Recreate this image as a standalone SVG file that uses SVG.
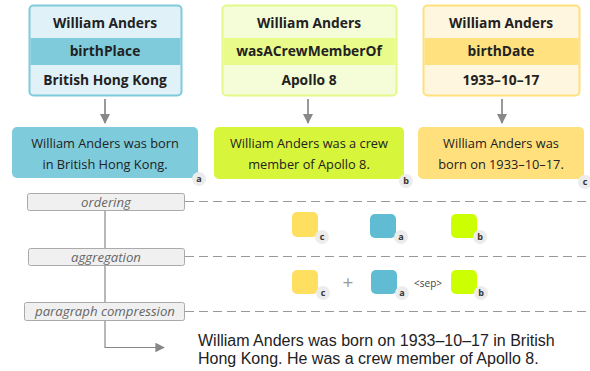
<svg xmlns="http://www.w3.org/2000/svg" width="590" height="371" viewBox="0 0 590 371">
<defs>
<style>
text{font-family:"Open Sans","DejaVu Sans",sans-serif;fill:#222;text-anchor:middle}
.h{font-weight:bold;font-size:13.8px}
.s{font-size:12.8px}
.p{font-style:italic;font-size:13.2px;fill:#666}
.pb{fill:#f0f0f0;stroke:#aaa;stroke-width:1}
.badge{fill:#ececec}
.bt{font-size:9px;font-weight:bold;fill:#333}
.dash{stroke:#999;stroke-width:1;stroke-dasharray:9,5;fill:none}
.ln{stroke:#888;stroke-width:1.2;fill:none}
.arr{stroke:#999;stroke-width:2;fill:none}
.out{font-family:"Liberation Sans",Arial,sans-serif;font-size:16px;text-anchor:start}
</style>
<marker id="ah" viewBox="0 0 10 10" refX="9" refY="5" markerWidth="5" markerHeight="6" orient="auto" markerUnits="strokeWidth"><path d="M0,0L10,5L0,10z" fill="#888"/></marker>
<marker id="ah2" viewBox="0 0 10 10" refX="9" refY="5" markerWidth="10" markerHeight="8" orient="auto" markerUnits="strokeWidth"><path d="M0,0L10,5L0,10z" fill="#888"/></marker>
</defs>
<rect width="590" height="371" fill="#fff"/>

<g id="triple-a">
<rect x="29.5" y="5.5" width="152" height="90" rx="4" fill="#e0f1f7" stroke="#7ecbdc" stroke-width="2"/>
<rect x="30.5" y="38" width="150" height="27" fill="#7fcbdc"/>
<text class="h" x="105" y="28">William Anders</text>
<text class="h" x="105" y="56">birthPlace</text>
<text class="h" x="105" y="85">British Hong Kong</text>
</g>
<g id="triple-b">
<rect x="222.5" y="5.5" width="174" height="90" rx="4" fill="#f5fdd8" stroke="#e3f98a" stroke-width="2"/>
<rect x="223.5" y="38" width="172" height="27" fill="#e9fb8a"/>
<text class="h" x="309" y="28">William Anders</text>
<text class="h" x="309" y="56">wasACrewMemberOf</text>
<text class="h" x="309" y="85">Apollo 8</text>
</g>
<g id="triple-c">
<rect x="423.5" y="5.5" width="156" height="90" rx="4" fill="#fff6df" stroke="#ffe07d" stroke-width="2"/>
<rect x="424.5" y="38" width="154" height="27" fill="#ffe27f"/>
<text class="h" x="501" y="28">William Anders</text>
<text class="h" x="501" y="56">birthDate</text>
<text class="h" x="501" y="85">1933–10–17</text>
</g>

<g id="sentence-a">
<rect x="12" y="127" width="186" height="51" rx="5" fill="#7ecbdc"/>
<text class="s" x="105" y="148">William Anders was born</text>
<text class="s" x="105" y="169">in British Hong Kong.</text>
<circle class="badge" cx="199" cy="179" r="7"/><text class="bt" x="199" y="182">a</text>
</g>
<g id="sentence-b">
<rect x="214" y="127" width="190" height="52" rx="5" fill="#d7f53a"/>
<text class="s" x="309" y="148">William Anders was a crew</text>
<text class="s" x="309" y="169">member of Apollo 8.</text>
<circle class="badge" cx="406" cy="181" r="7"/><text class="bt" x="406" y="184">b</text>
</g>
<g id="sentence-c">
<rect x="418" y="127" width="166" height="52" rx="5" fill="#ffe07d"/>
<text class="s" x="501" y="148">William Anders was</text>
<text class="s" x="501" y="169">born on 1933–10–17.</text>
<circle class="badge" cx="585" cy="182" r="7"/><text class="bt" x="585" y="185">c</text>
</g>

<g id="step-ordering">
<rect class="pb" x="27.5" y="193.5" width="157" height="17" rx="2"/>
<text class="p" x="106" y="206.5">ordering</text>
</g>
<g id="step-aggregation">
<rect class="pb" x="28.5" y="248.5" width="156" height="17" rx="2"/>
<text class="p" x="106" y="261.5">aggregation</text>
</g>
<g id="step-compression">
<rect class="pb" x="24.5" y="302.5" width="160" height="18" rx="2"/>
<text class="p" x="105" y="316">paragraph compression</text>
</g>

<g id="ordered">
<rect x="292" y="212" width="26" height="25" rx="5" fill="#ffdf5f"/>
<circle class="badge" cx="322" cy="237" r="7"/><text class="bt" x="322" y="240">c</text>
<rect x="370" y="214" width="26" height="24" rx="5" fill="#5fbcd3"/>
<circle class="badge" cx="401" cy="237" r="7"/><text class="bt" x="401" y="240">a</text>
<rect x="451" y="214" width="26" height="24" rx="5" fill="#ccff00"/>
<circle class="badge" cx="480" cy="237" r="7"/><text class="bt" x="480" y="240">b</text>
</g>
<g id="aggregated">
<rect x="292" y="270" width="26" height="24" rx="5" fill="#ffdf5f"/>
<circle class="badge" cx="323" cy="293" r="7"/><text class="bt" x="323" y="296">c</text>
<text x="348" y="289" style="font-size:19px;fill:#999">+</text>
<rect x="371" y="270" width="26" height="24" rx="5" fill="#5fbcd3"/>
<circle class="badge" cx="402" cy="293" r="7"/><text class="bt" x="402" y="296">a</text>
<text x="428" y="286.5" style="font-size:10px;fill:#444">&lt;sep&gt;</text>
<rect x="451" y="270" width="26" height="24" rx="5" fill="#ccff00"/>
<circle class="badge" cx="481" cy="293" r="7"/><text class="bt" x="481" y="296">b</text>
</g>

<g id="output">
<text class="out" x="198" y="345.5">William Anders was born on 1933–10–17 in British</text>
<text class="out" x="198" y="363.8">Hong Kong. He was a crew member of Apollo 8.</text>
</g>

<g id="connectors">
<line class="arr" x1="105" y1="99" x2="105" y2="123" marker-end="url(#ah)"/>
<line class="arr" x1="308" y1="99" x2="308" y2="123" marker-end="url(#ah)"/>
<line class="arr" x1="502" y1="99" x2="502" y2="123" marker-end="url(#ah)"/>
<line class="ln" x1="105" y1="211" x2="105" y2="248"/>
<line class="ln" x1="105" y1="266" x2="105" y2="302"/>
<polyline class="ln" points="105,321 105,347.5 164,347.5" marker-end="url(#ah2)"/>
<line class="dash" x1="185" y1="201.5" x2="590" y2="201.5"/>
<line class="dash" x1="185" y1="256.5" x2="590" y2="256.5"/>
<line class="dash" x1="185" y1="311.5" x2="590" y2="311.5"/>
</g>
</svg>
